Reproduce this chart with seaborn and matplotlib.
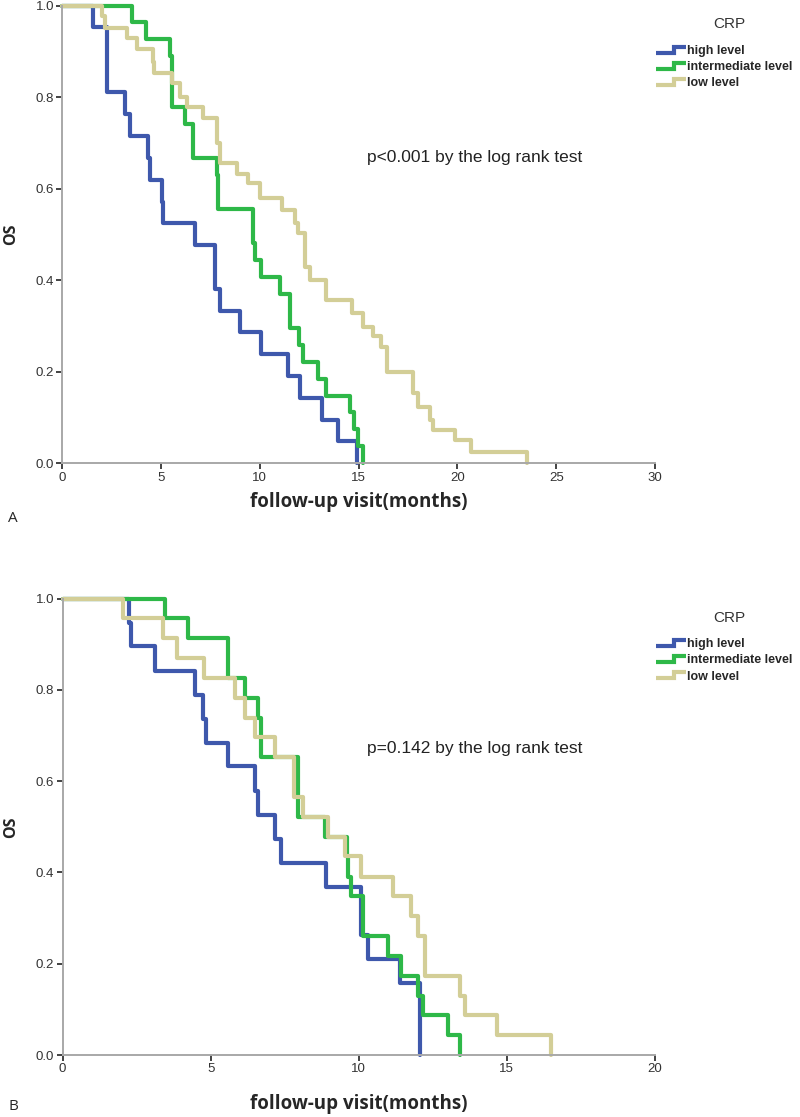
import numpy as np
import pandas as pd
import seaborn as sns
import matplotlib.pyplot as plt
from matplotlib.legend_handler import HandlerBase
from matplotlib.lines import Line2D

sns.set_style('white')
plt.rcParams['font.family'] = ['Liberation Sans', 'DejaVu Sans']

groups = ['high level', 'intermediate level', 'low level']
colors = ['#3E58AC', '#2EB848', '#D3CE97']

# panel A: Kaplan-Meier steps (time in months, OS after the step)
a_high_t = [0, 1.54, 2.24, 3.17, 3.42, 4.32, 4.45, 5.03, 5.1, 6.71, 7.72, 7.98,
            8.98, 10.08, 11.43, 12.02, 13.12, 13.96, 14.92]
a_high_s = [1.0, 0.952, 0.810, 0.762, 0.714, 0.667, 0.619, 0.571, 0.524, 0.476,
            0.381, 0.333, 0.286, 0.238, 0.190, 0.143, 0.095, 0.048, 0.0]
a_mid_t = [0, 3.54, 4.22, 5.45, 5.55, 6.21, 6.63, 7.81, 7.9, 9.63, 9.75, 10.08,
           11.0, 11.52, 12.0, 12.2, 12.95, 13.37, 14.55, 14.75, 14.97, 15.22]
a_mid_s = [1.0, 0.963, 0.926, 0.889, 0.778, 0.741, 0.667, 0.630, 0.556, 0.481,
           0.444, 0.407, 0.370, 0.296, 0.259, 0.222, 0.185, 0.148, 0.111, 0.074,
           0.037, 0.0]
a_low_t = [0, 1.99, 2.16, 3.26, 3.76, 4.6, 4.65, 5.53, 5.95, 6.29, 7.13, 7.81, 8.0,
           8.82, 9.41, 10.0, 11.1, 11.77, 11.95, 12.28, 12.53, 13.37, 14.64, 15.23,
           15.73, 16.15, 16.41, 17.75, 18.0, 18.6, 18.75, 19.86, 20.7, 23.5]
a_low_s = [1.0, 0.976, 0.950, 0.928, 0.905, 0.877, 0.852, 0.830, 0.801, 0.779,
           0.754, 0.699, 0.655, 0.633, 0.612, 0.579, 0.553, 0.524, 0.502, 0.429,
           0.400, 0.357, 0.328, 0.298, 0.277, 0.255, 0.200, 0.153, 0.124, 0.095,
           0.073, 0.051, 0.025, 0.0]

# panel B
b_high_t = [0, 2.24, 2.3, 3.12, 4.47, 4.75, 4.85, 5.59, 6.49, 6.6, 7.17, 7.39,
            8.89, 10.09, 10.3, 11.39, 12.06]
b_high_s = [1.0, 0.947, 0.895, 0.842, 0.789, 0.737, 0.684, 0.632, 0.579, 0.526,
            0.474, 0.421, 0.368, 0.263, 0.211, 0.158, 0.0]
b_mid_t = [0, 3.46, 4.25, 5.59, 6.16, 6.61, 6.7, 7.95, 8.86, 9.59, 9.65, 9.75,
           10.15, 10.99, 11.44, 12.0, 12.17, 13.02, 13.41]
b_mid_s = [1.0, 0.957, 0.913, 0.826, 0.783, 0.739, 0.652, 0.522, 0.478, 0.435,
           0.391, 0.348, 0.261, 0.217, 0.174, 0.130, 0.087, 0.043, 0.0]
b_low_t = [0, 2.05, 3.40, 3.85, 4.78, 5.82, 6.16, 6.49, 7.17, 7.82, 8.12, 8.97,
           9.53, 10.09, 11.16, 11.78, 12.0, 12.23, 13.41, 13.58, 14.65, 16.5]
b_low_s = [1.0, 0.957, 0.913, 0.870, 0.826, 0.783, 0.739, 0.696, 0.652, 0.565,
           0.522, 0.478, 0.435, 0.391, 0.348, 0.304, 0.261, 0.174, 0.130, 0.087,
           0.043, 0.0]

panels = [
    dict(t=[a_high_t, a_mid_t, a_low_t], s=[a_high_s, a_mid_s, a_low_s],
         xmax=30, ptext='p<0.001 by the log rank test', pxy=(15.4, 0.669),
         letter='A'),
    dict(t=[b_high_t, b_mid_t, b_low_t], s=[b_high_s, b_mid_s, b_low_s],
         xmax=20, ptext='p=0.142 by the log rank test', pxy=(10.27, 0.672),
         letter='B'),
]


class StepHandler(HandlerBase):
    # small stair icon like the SPSS legend
    def create_artists(self, legend, orig_handle, xdescent, ydescent, width,
                       height, fontsize, trans):
        x = np.array([0, 0.6, 0.6, 1.0]) * width - xdescent
        y = np.array([0.2, 0.2, 0.8, 0.8]) * height - ydescent
        ln = Line2D(x, y, color=orig_handle.get_color(), lw=3,
                    solid_joinstyle='miter', solid_capstyle='butt')
        ln.set_transform(trans)
        return [ln]


fig = plt.figure(figsize=(8, 11.17), dpi=100)
W, H = 800, 1117
boxes = [(62.3, 655, 5.5, 463.3), (62.5, 655, 598.5, 1055)]
sans = ['Open Sans', 'DejaVu Sans']

for p, (x0, x1, ytop, ybot) in zip(panels, boxes):
    ax = fig.add_axes([x0 / W, 1 - ybot / H, (x1 - x0) / W, (ybot - ytop) / H])
    df = pd.concat([pd.DataFrame({'time': t, 'OS': s, 'CRP': g})
                    for t, s, g in zip(p['t'], p['s'], groups)])
    sns.lineplot(data=df, x='time', y='OS', hue='CRP', palette=colors,
                 estimator=None, sort=False, drawstyle='steps-post',
                 linewidth=3, clip_on=False, ax=ax, legend=False)
    ax.set_xlim(0, p['xmax'])
    ax.set_ylim(0, 1.0)
    ax.set_xticks(range(0, p['xmax'] + 1, 5))
    ax.set_yticks(np.arange(0, 1.01, 0.2))
    ax.set_yticklabels([f'{v:.1f}' for v in np.arange(0, 1.01, 0.2)])
    for side in ['top', 'right']:
        ax.spines[side].set_visible(False)
    for side in ['left', 'bottom']:
        ax.spines[side].set_color('#a8a8a8')
        ax.spines[side].set_linewidth(1.4)
    ax.tick_params(direction='out', length=4, width=1.2, color='#222222',
                   labelsize=9.5, labelcolor='#333333', pad=2,
                   bottom=True, left=True)
    ax.set_xlabel('follow-up visit(months)', family=sans,
                  fontweight='bold', fontsize=13.5)
    ax.set_ylabel('OS', family=sans, fontweight='bold', fontsize=11.5)
    off = 29 if p['letter'] == 'A' else 39
    ax.xaxis.set_label_coords(0.5, -off / (ybot - ytop))
    ax.yaxis.set_label_coords(-(x0 - 19) / (x1 - x0), 0.5)
    ax.text(p['pxy'][0], p['pxy'][1], p['ptext'], fontsize=12.5, color='#222222',
            va='center', ha='left')

    # legend: title as separate text, entries below
    fig.text(729 / W, 1 - (ytop + 19) / H, 'CRP', fontsize=11, color='#333333',
             ha='center', va='center')
    handles = [Line2D([], [], color=c, lw=3) for c in colors]
    ax.legend(handles, groups, loc='upper left',
              bbox_to_anchor=(656 / W, 1 - (ytop + 39) / H),
              bbox_transform=fig.transFigure, frameon=False,
              handler_map={Line2D: StepHandler()},
              prop=dict(size=9, weight='bold'),
              handlelength=2.4, handleheight=0.9, handletextpad=0.05,
              labelspacing=0.3, borderaxespad=0, borderpad=0)

    fig.text(8 / W, 1 - (ybot + (55 if p['letter'] == 'A' else 52)) / H,
             p['letter'], family=sans, fontsize=11, va='center', ha='left')

fig.savefig('out.png', dpi=100)
